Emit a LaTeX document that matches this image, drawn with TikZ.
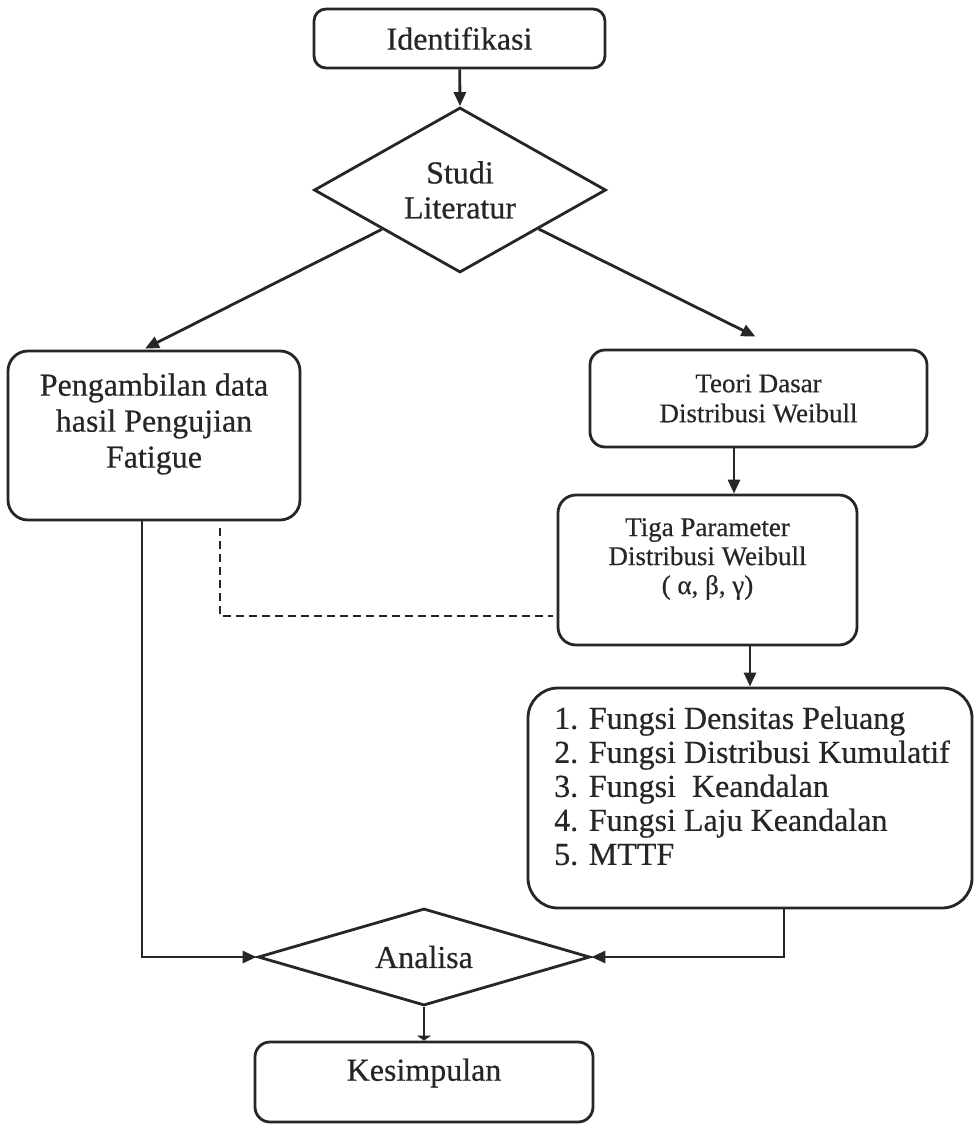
\documentclass[tikz,border=0pt]{standalone}
\usepackage{fontspec}
\setmainfont{Liberation Serif}[FakeBold=0.5]
\usetikzlibrary{shapes.geometric,arrows.meta,calc}
\definecolor{ink}{HTML}{262626}
\begin{document}
\begin{tikzpicture}[x=1pt,y=-1pt,
  every node/.style={text=ink},
  bigtxt/.style={font=\fontsize{32}{35}\selectfont, align=center, inner sep=0pt},
  smalltxt/.style={font=\fontsize{27}{30}\selectfont, align=center, inner sep=0pt},
  boxnode/.style={draw=ink, line width=2.8pt, rounded corners=#1, inner sep=0pt},
  boxnode/.default=14pt,
  decision/.style={draw=ink, line width=2.8pt, shape=diamond, shape aspect=2, inner sep=0pt},
  arr/.style={draw=ink, line width=2.8pt, -{Triangle[length=14pt,width=12pt]}},
  flatarr/.style={draw=ink, line width=2.8pt, -{Triangle[length=5pt,width=14pt]}},
  dashline/.style={draw=ink, line width=2.6pt, dash pattern=on 8pt off 5pt}
]
\useasboundingbox (0,0) rectangle (976,1125);

% nodes
\node[boxnode=12pt, bigtxt, minimum width=291pt, minimum height=59pt] (iden) at (459.5,38.5) {Identifikasi};
\node[decision, bigtxt, minimum width=292pt, minimum height=165pt] (studi) at (460,190) {Studi\\Literatur};

\node[boxnode=20pt, minimum width=292pt, minimum height=169pt] (peng) at (154,435.5) {};
\node[bigtxt, font=\fontsize{32}{36}\selectfont] (pengtxt) at (154,424) {Pengambilan data\\hasil Pengujian\\Fatigue};

\node[boxnode=15pt, smalltxt, minimum width=337pt, minimum height=97pt] (teori) at (758.5,398.5) {Teori Dasar\\Distribusi Weibull};

\node[boxnode=18pt, minimum width=299pt, minimum height=150pt] (tiga) at (707.5,570) {};
\node[smalltxt, font=\fontsize{27}{29}\selectfont] (tigatxt) at (707.5,559) {Tiga Parameter\\Distribusi Weibull\\( α, β, γ)};

\node[boxnode=30pt, minimum width=444pt, minimum height=220pt] (list) at (750,798) {};
\node[bigtxt, align=left, anchor=west, font=\fontsize{32}{34}\selectfont] (listtxt) at (554,786) {1. Fungsi Densitas Peluang\\2. Fungsi Distribusi Kumulatif\\3. Fungsi \ Keandalan\\4. Fungsi Laju Keandalan\\5. MTTF};

\node[decision, bigtxt, minimum width=332pt, minimum height=97pt] (ana) at (424,957) {Analisa};

\node[boxnode=15pt, minimum width=338pt, minimum height=80pt] (kes) at (424,1082) {};
\node[bigtxt] (kestxt) at (424,1073) {Kesimpulan};

% connectors
\draw[arr] (iden) -- (studi.north);
\draw[arr] (studi) -- ($(peng.north)+(-9,-1)$);
\draw[arr] (studi) -- ($(teori.north)+(-3,-12)$);

\coordinate (c1) at ($(teori.south)+(-24.5,0)$);
\draw[arr] (c1) -- (c1 |- tiga.north);

\draw[arr] (list.north |- tiga.south) -- (list.north);

\coordinate (c2) at ($(list.south)+(34,0)$);
\draw[arr] (c2) |- (ana.east);

\coordinate (c3) at ($(peng.south)+(-12,0)$);
\draw[arr] (c3) |- (ana.west);

\coordinate (c4) at ($(peng.south)+(66,7)$);
\coordinate (c5) at ($(tiga.west)+(-4,46)$);
\draw[dashline] (c4) |- (c5);

\draw[flatarr] (ana.south) -- (kes.north);
\end{tikzpicture}
\end{document}
